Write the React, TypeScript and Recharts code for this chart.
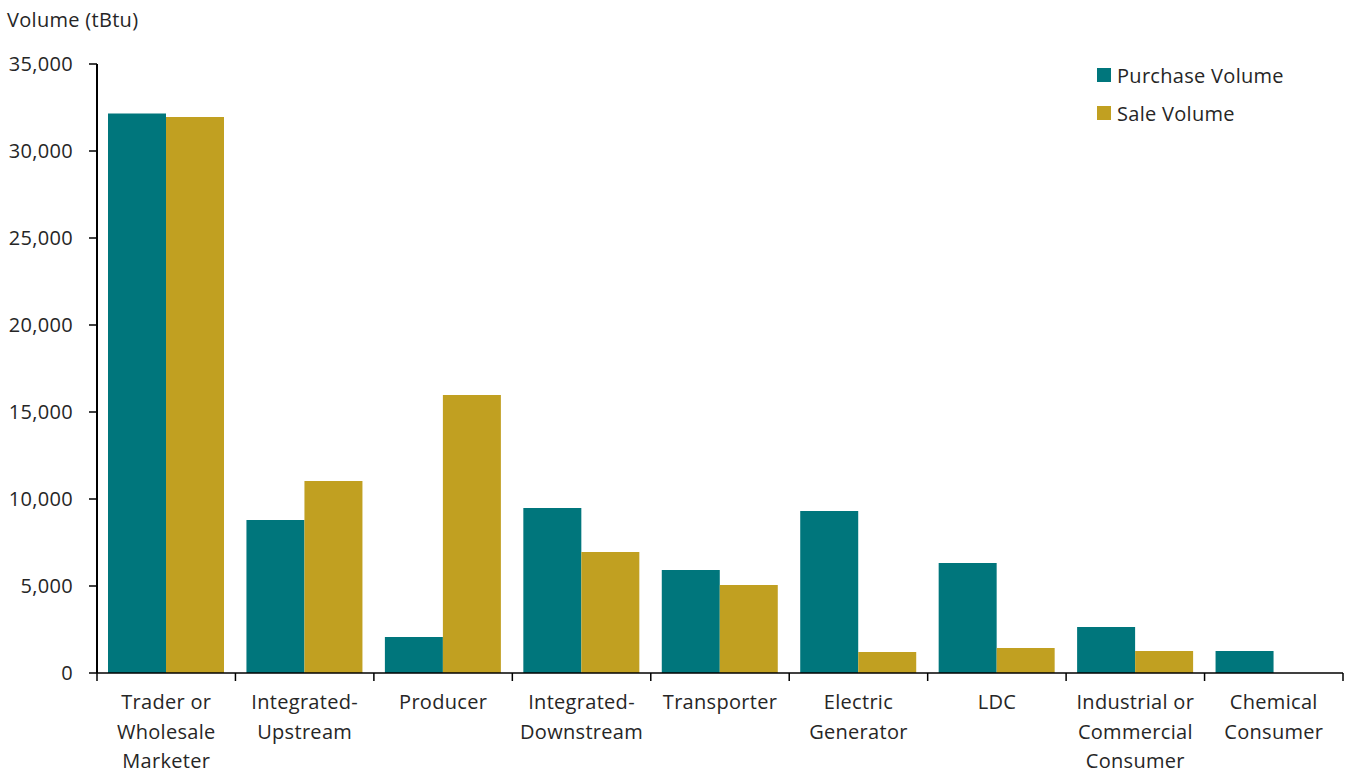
import { BarChart, Bar, XAxis, YAxis } from 'recharts';

const categories = [
  'Trader or\nWholesale\nMarketer',
  'Integrated-\nUpstream',
  'Producer',
  'Integrated-\nDownstream',
  'Transporter',
  'Electric\nGenerator',
  'LDC',
  'Industrial or\nCommercial\nConsumer',
  'Chemical\nConsumer',
];
const purchaseVolume = [32150, 8800, 2070, 9480, 5920, 9310, 6320, 2650, 1270];
const saleVolume = [31950, 11040, 15980, 6950, 5060, 1210, 1440, 1270, 0];
const yTicks = [0, 5000, 10000, 15000, 20000, 25000, 30000, 35000];

const data = categories.map((name, i) => ({
  name,
  purchase: purchaseVolume[i],
  sale: saleVolume[i],
}));

const W = 1349;
const H = 774;
const M = { top: 64, right: 6, left: 0, bottom: 0 };
const Y_WIDTH = 97;
const BAND = (W - M.left - M.right - Y_WIDTH) / categories.length;
const FONT = '"Open Sans", sans-serif';
const FS = 20;
const LS = 0.3;
const TEXT = '#262626';
const TEAL = '#00767C';
const GOLD = '#C1A021';

const CategoryTick = (props: any) => {
  const { x, y, payload, index } = props;
  const lines = String(payload.value).split('\n');
  const left = x - BAND / 2;
  return (
    <g>
      <line x1={left} y1={y} x2={left} y2={y + 8} stroke="#000" strokeWidth={1.5} />
      {index === categories.length - 1 && (
        <line x1={x + BAND / 2} y1={y} x2={x + BAND / 2} y2={y + 8} stroke="#000" strokeWidth={1.5} />
      )}
      <text x={x} y={y} textAnchor="middle" fill={TEXT} fontSize={FS} fontFamily={FONT} letterSpacing={LS}>
        {lines.map((l, i) => (
          <tspan key={i} x={x} dy={i === 0 ? 36 : 29.5}>
            {l}
          </tspan>
        ))}
      </text>
    </g>
  );
};

const legendItems = [
  { label: 'Purchase Volume', color: TEAL },
  { label: 'Sale Volume', color: GOLD },
];

export default function App() {
  return (
    <div style={{ position: 'absolute', left: 0, top: 0, width: W, height: H, background: '#fff' }}>
      <div
        style={{
          position: 'absolute',
          left: 7,
          top: 8,
          fontFamily: FONT,
          fontSize: FS,
          letterSpacing: LS,
          color: TEXT,
          lineHeight: '24px',
        }}
      >
        Volume (tBtu)
      </div>
      <div
        style={{
          position: 'absolute',
          left: 1097,
          top: 56,
          fontFamily: FONT,
          fontSize: FS,
          letterSpacing: LS,
          color: TEXT,
        }}
      >
        {legendItems.map((it) => (
          <div key={it.label} style={{ display: 'flex', alignItems: 'center', height: 38 }}>
            <span style={{ width: 14, height: 14, background: it.color, marginRight: 6, display: 'inline-block' }} />
            {it.label}
          </div>
        ))}
      </div>
      <BarChart width={W} height={H} data={data} margin={M} barCategoryGap={11} barGap={0}>
        <XAxis
          dataKey="name"
          interval={0}
          height={H - 673 - M.bottom}
          axisLine={{ stroke: '#000', strokeWidth: 1.5 }}
          tickLine={false}
          tickSize={0}
          tickMargin={0}
          tick={<CategoryTick />}
        />
        <YAxis
          width={Y_WIDTH}
          domain={[0, 35000]}
          ticks={yTicks}
          interval={0}
          axisLine={{ stroke: '#000', strokeWidth: 2 }}
          tickLine={{ stroke: '#000', strokeWidth: 1.5 }}
          tickSize={8}
          tickMargin={16}
          tickFormatter={(v: number) => v.toLocaleString('en-US')}
          tick={{ fill: TEXT, fontSize: FS, fontFamily: FONT, letterSpacing: LS }}
        />
        <Bar dataKey="purchase" name="Purchase Volume" fill={TEAL} isAnimationActive={false} />
        <Bar dataKey="sale" name="Sale Volume" fill={GOLD} isAnimationActive={false} />
      </BarChart>
    </div>
  );
}
